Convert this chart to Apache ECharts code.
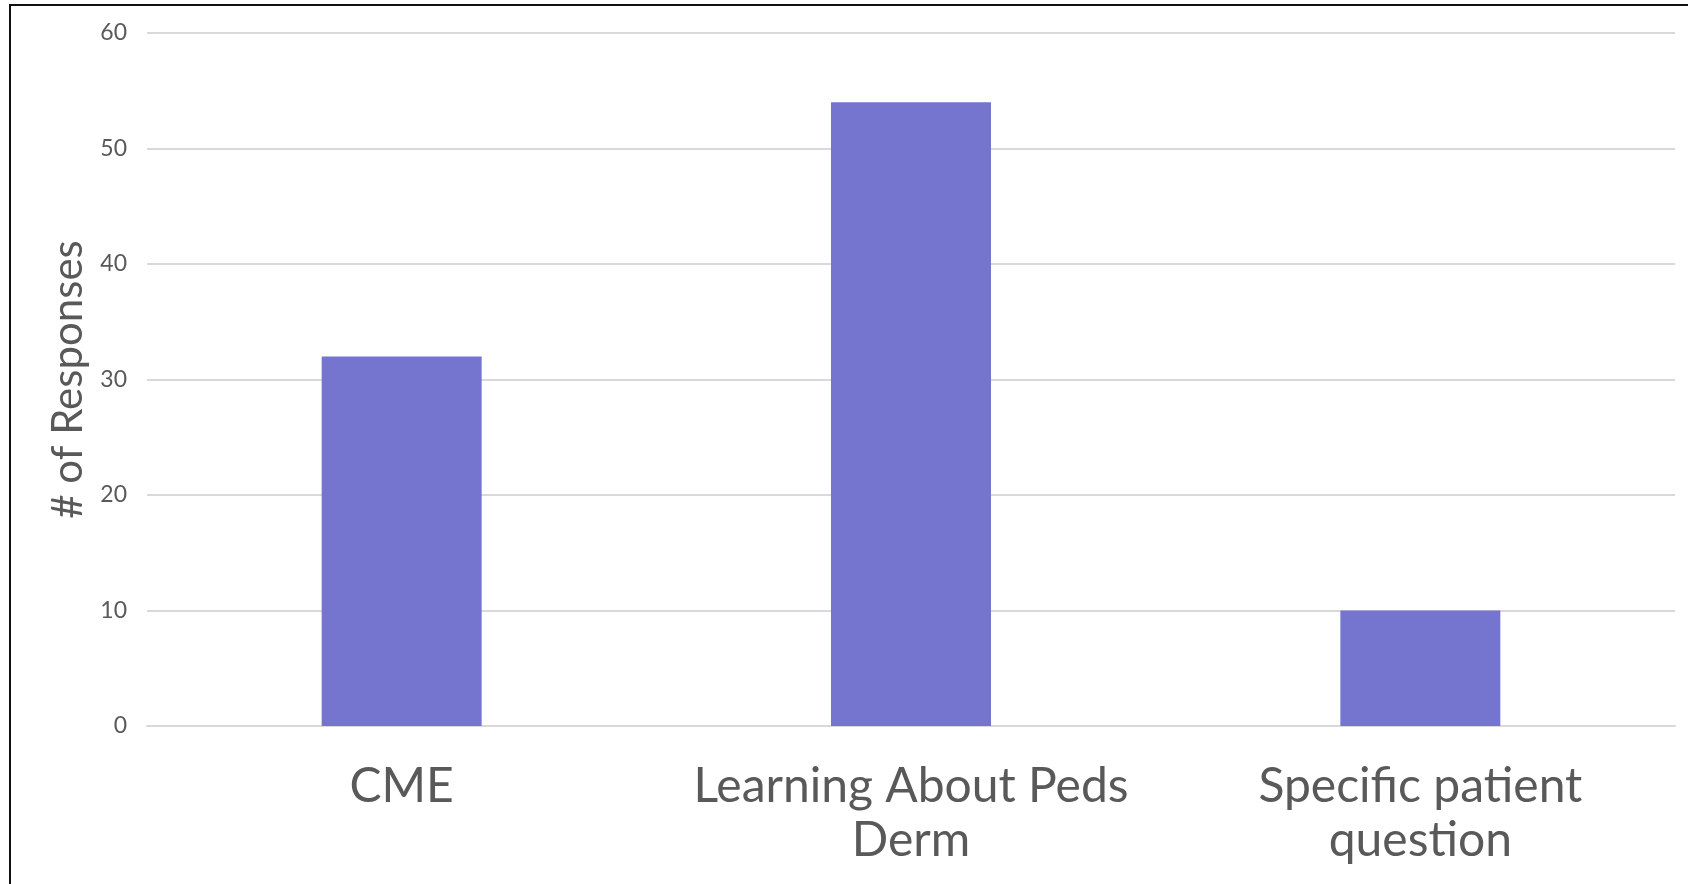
<!DOCTYPE html>
<html>
<head>
<meta charset="utf-8">
<script src="https://cdn.jsdelivr.net/npm/echarts@6/dist/echarts.min.js"></script>
<style>
  html, body { margin: 0; padding: 0; background: #fff; }
  #chart { width: 1688px; height: 884px; }
</style>
</head>
<body>
<div id="chart"></div>
<script>
const categories = ['CME', 'Learning About Peds\nDerm', 'Specific patient\nquestion']
const responses = [32, 54, 10]
const yTicks = { min: 0, max: 60, interval: 10 }

const chart = echarts.init(document.getElementById('chart'), null, { renderer: 'canvas' })

chart.setOption({
  animation: false,
  // outer frame of the slide (left and top edges visible)
  graphic: [{
    type: 'rect',
    shape: { x: 10, y: 5, width: 1700, height: 900 },
    style: { fill: 'none', stroke: '#111', lineWidth: 2 },
    silent: true,
  }],
  grid: {
    left: 147,
    right: 13,
    top: 33,
    bottom: 158,
    containLabel: false,
  },
  xAxis: {
    type: 'category',
    data: categories,
    axisLine: { show: true, lineStyle: { color: '#d9d9d9', width: 2 } },
    axisTick: { show: false },
    axisLabel: {
      interval: 0,
      color: '#595959',
      fontFamily: 'Lato',
      fontSize: 48,
      lineHeight: 54,
      margin: 34,
    },
  },
  yAxis: {
    type: 'value',
    min: yTicks.min,
    max: yTicks.max,
    interval: yTicks.interval,
    name: '# of Responses',
    nameLocation: 'middle',
    nameGap: 58,
    nameTextStyle: { color: '#595959', fontFamily: 'Lato', fontSize: 42 },
    axisLine: { show: false },
    axisTick: { show: false },
    splitLine: { lineStyle: { color: '#d9d9d9', width: 2 } },
    axisLabel: { color: '#595959', fontFamily: 'Lato', fontSize: 23, margin: 20 },
  },
  series: [{
    type: 'bar',
    data: responses,
    barWidth: 160,
    itemStyle: { color: '#7575d0' },
  }],
})
</script>
</body>
</html>
